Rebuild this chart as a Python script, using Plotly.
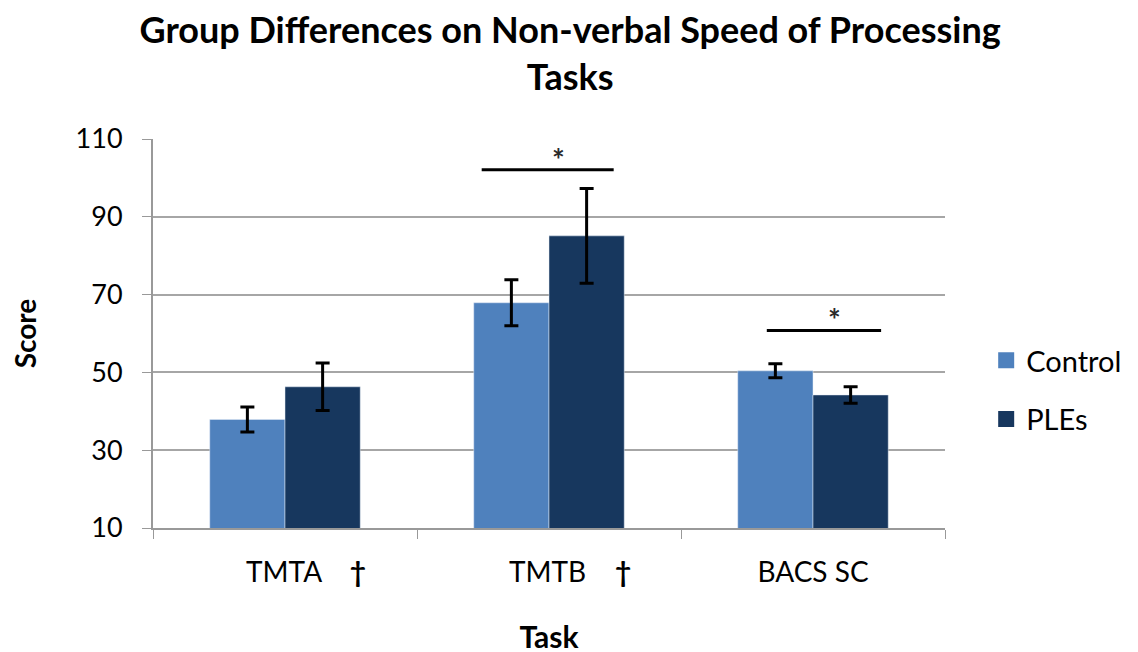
import plotly.graph_objects as go

tasks = ["TMTA", "TMTB", "BACS SC"]
NB = "\u00a0"
tick_labels = [NB * 6 + "TMTA" + NB * 4 + "<b>\u2020</b>",
               NB * 6 + "TMTB" + NB * 4 + "<b>\u2020</b>",
               "BACS SC"]
control_mean = [37.9, 67.9, 50.4]
control_err = [3.2, 5.9, 1.8]
ples_mean = [46.3, 85.1, 44.2]
ples_err = [6.1, 12.2, 2.1]

FONT = "Lato"
C_CONTROL = "#4F81BD"
C_PLES = "#17375E"

fig = go.Figure()
fig.add_trace(go.Bar(
    name="Control", x=tasks, y=control_mean, showlegend=False,
    marker=dict(color=C_CONTROL),
    error_y=dict(type="data", array=control_err, visible=True,
                 color="black", thickness=3, width=7),
))
fig.add_trace(go.Bar(
    name="PLEs", x=tasks, y=ples_mean, showlegend=False,
    marker=dict(color=C_PLES),
    error_y=dict(type="data", array=ples_err, visible=True,
                 color="black", thickness=3, width=7),
))
# legend entries (square swatches)
for nm, col, grp in [("Control", C_CONTROL, "a"), ("PLEs", C_PLES, "b")]:
    fig.add_trace(go.Scatter(
        name=nm, x=[None], y=[None], mode="markers", legendgroup=grp,
        marker=dict(symbol="square", size=16, color=col),
    ))

# significance markers
sig_spans = [(0.745, 1.245, 102.1), (1.825, 2.258, 60.8)]
for x0, x1, yv in sig_spans:
    fig.add_shape(type="line", xref="x", yref="y", x0=x0, x1=x1, y0=yv, y1=yv,
                  line=dict(color="black", width=3))
    fig.add_annotation(x=(x0 + x1) / 2 + 0.04, y=yv, yref="y", xref="x",
                       text="<b>*</b>", showarrow=False, yanchor="bottom", yshift=-9,
                       font=dict(family=FONT, size=30, color="#2a2a2a"))

fig.update_layout(
    width=1138, height=652,
    paper_bgcolor="white", plot_bgcolor="white",
    margin=dict(l=145, r=201, t=131, b=132),
    barmode="group", bargap=0.43, bargroupgap=0,
    font=dict(family=FONT, color="#1a1a1a"),
    title=dict(
        text="<b>Group Differences on Non-verbal Speed of Processing<br>Tasks</b>",
        x=0.494, xanchor="center", y=0.946, yanchor="top",
        font=dict(family=FONT, size=36, color="black"),
    ),
    legend=dict(
        x=1.052, xanchor="left", y=0.355, yanchor="middle",
        font=dict(family=FONT, size=29, color="black"),
        itemsizing="trace", tracegroupgap=18, itemwidth=30,
    ),
    xaxis=dict(
        type="category", tickvals=tasks, ticktext=tick_labels,
        tickson="boundaries", ticks="outside", ticklen=9, tickcolor="#999999",
        showline=True, linecolor="#999999", linewidth=2, showgrid=False,
        ticklabelstandoff=18, automargin=False,
        tickfont=dict(family=FONT, size=28, color="black"),
        title=dict(text="<b>Task</b>", font=dict(family=FONT, size=30, color="black"),
                   standoff=40),
    ),
    yaxis=dict(
        range=[10, 110], tick0=10, dtick=20,
        ticks="outside", ticklen=9, tickcolor="#999999",
        showline=True, linecolor="#999999", linewidth=2,
        showgrid=True, gridcolor="#a6a6a6", gridwidth=2, zeroline=False,
        ticklabelstandoff=14, automargin=False,
        tickfont=dict(family=FONT, size=27, color="black"),
        title=dict(text="<b>Score</b>", font=dict(family=FONT, size=28, color="black"),
                   standoff=37),
    ),
)

fig.write_html("out.html")
